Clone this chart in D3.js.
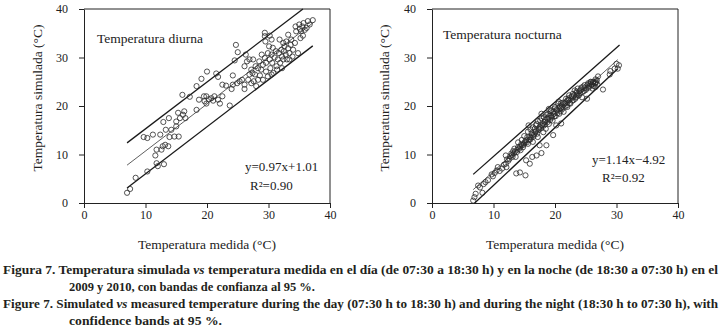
<!DOCTYPE html>
<html>
<head>
<meta charset="utf-8">
<script src="https://cdn.jsdelivr.net/npm/d3@7"></script>
<style>
  body { margin: 0; background: #fff; }
  svg { display: block; }
  .axis text { font-family: "Liberation Serif", serif; font-size: 12px; fill: #222; }
  .axis path, .axis line { stroke: #222; stroke-width: 1; }
</style>
</head>
<body>
<svg id="chart" width="720" height="334"></svg>
<script>
// tick values shared by both panels
const tickValues = [0, 10, 20, 30, 40];

// day temperature: [measured, simulated]
const dayPoints = [
  [7.0, 2.1], [7.5, 2.9], [8.4, 5.2], [10.3, 6.5], [9.7, 13.6], [10.3, 13.4], [11.2, 14.1],
  [11.8, 8.2], [12.0, 7.6], [13.0, 8.0], [11.6, 9.8], [11.8, 11.0], [12.6, 11.0], [12.8, 11.7],
  [13.2, 12.0], [13.7, 11.7], [12.4, 14.1], [13.9, 13.6], [14.2, 15.1], [14.7, 13.7], [15.4, 13.7],
  [12.9, 16.7], [13.3, 15.1], [13.8, 17.5], [15.0, 15.8], [15.0, 16.8], [15.3, 18.6], [15.6, 17.5],
  [16.1, 18.2], [16.3, 18.9], [16.0, 22.3], [16.5, 17.5], [17.2, 21.9], [18.3, 19.2], [18.3, 24.1],
  [19.1, 25.6], [18.7, 21.3], [19.5, 22.0], [19.6, 21.0], [19.9, 22.0], [20.0, 27.1], [19.9, 20.5],
  [20.3, 21.4], [20.7, 21.6], [21.0, 21.1], [21.2, 22.0], [21.5, 26.7], [21.8, 26.0], [21.8, 21.3],
  [22.1, 20.5], [22.5, 24.4], [22.5, 22.0], [23.1, 24.2], [23.7, 20.1], [24.0, 23.5], [24.2, 26.3],
  [24.2, 24.4], [24.5, 29.4], [24.7, 32.6], [25.0, 31.1], [24.9, 24.7], [25.3, 25.1], [25.7, 25.4],
  [26.1, 23.5], [26.1, 24.4], [26.1, 28.2], [26.3, 30.6], [26.5, 29.2], [26.7, 25.4], [26.9, 26.5],
  [26.9, 29.6], [27.2, 24.7], [27.2, 27.5], [27.5, 29.6], [27.6, 25.1], [27.8, 26.5], [27.9, 28.2],
  [28.0, 24.1], [28.3, 25.4], [28.3, 27.8], [28.5, 29.2], [28.6, 26.3], [28.8, 27.5], [29.1, 28.5],
  [29.1, 25.4], [29.4, 29.9], [29.4, 35.1], [29.4, 34.4], [29.5, 33.3], [29.6, 27.1], [29.6, 28.9],
  [29.9, 30.9], [30.1, 32.3], [30.2, 29.6], [30.2, 34.5], [30.3, 27.8], [30.5, 33.7], [30.5, 30.6],
  [30.6, 28.9], [30.7, 32.0], [30.8, 26.8], [31.0, 30.0], [31.2, 31.3], [31.3, 28.2], [31.4, 27.5],
  [31.5, 29.6], [31.7, 30.9], [31.8, 33.7], [31.9, 28.9], [32.1, 31.6], [32.2, 30.2], [32.4, 29.6],
  [32.4, 33.0], [32.5, 31.3], [32.6, 32.3], [32.8, 30.6], [32.9, 33.3], [33.0, 29.6], [33.2, 31.9],
  [33.2, 34.7], [33.4, 30.9], [33.6, 32.6], [33.7, 33.7], [33.9, 30.2], [34.0, 31.6], [34.3, 33.0],
  [34.4, 36.4], [34.5, 35.4], [34.8, 30.9], [35.0, 36.8], [35.1, 35.9], [35.2, 34.0], [35.3, 35.4],
  [35.5, 36.4], [35.6, 34.5], [35.7, 37.1], [35.9, 35.7], [36.2, 36.1], [36.4, 37.5], [36.7, 36.8],
  [37.2, 37.7], [32.2, 27.8], [33.4, 29.6], [29.9, 26.1], [30.5, 26.5], [28.9, 30.6], [27.4, 26.8]
];

// night temperature: [measured, simulated]
const nightPoints = [
  [6.7, 0.5], [6.9, 1.2], [7.1, 1.9], [7.5, 3.6], [7.8, 3.2], [8.2, 2.1], [8.4, 3.9], [8.7, 4.3],
  [9.1, 4.7], [9.7, 5.9], [9.9, 5.5], [10.2, 6.2], [10.5, 6.7], [10.7, 7.4], [11.0, 6.6], [11.4, 7.1],
  [11.7, 7.9], [12.0, 8.1], [12.1, 7.4], [12.4, 8.7], [12.0, 9.8], [12.6, 9.1], [12.9, 10.2],
  [13.1, 9.5], [13.2, 10.7], [13.4, 11.2], [13.6, 9.5], [13.8, 10.5], [14.0, 11.5], [13.7, 6.1],
  [14.3, 6.3], [14.4, 10.9], [14.5, 12.1], [14.8, 11.5], [15.1, 12.6], [15.2, 5.7], [15.3, 8.8],
  [15.5, 13.6], [15.6, 12.2], [15.7, 16.0], [15.9, 8.1], [16.0, 13.1], [16.2, 14.4], [16.3, 9.5],
  [16.4, 12.6], [16.5, 13.7], [16.7, 15.3], [16.9, 16.0], [17.0, 9.8], [17.1, 14.3], [17.2, 13.6],
  [17.4, 15.3], [17.5, 11.9], [17.6, 17.0], [17.8, 18.4], [17.8, 10.3], [17.9, 16.0], [18.1, 14.6],
  [18.2, 17.7], [18.3, 16.7], [18.5, 15.3], [18.6, 11.9], [18.7, 17.4], [18.9, 18.4], [19.0, 16.3],
  [19.1, 18.0], [19.4, 19.1], [19.6, 17.0], [19.7, 14.0], [19.8, 18.4], [20.0, 19.8], [20.1, 17.9],
  [20.2, 16.0], [20.3, 19.1], [20.5, 20.5], [20.7, 18.4], [20.8, 19.9], [21.0, 16.4], [21.0, 19.5],
  [21.3, 20.7], [21.4, 18.8], [21.6, 20.5], [21.8, 21.5], [22.0, 19.8], [22.1, 21.2], [22.3, 22.2],
  [22.5, 20.5], [22.7, 21.8], [22.9, 22.5], [23.0, 21.2], [23.2, 23.2], [23.4, 21.8], [23.5, 22.7],
  [23.7, 23.6], [23.9, 22.2], [24.0, 23.1], [24.3, 23.8], [24.4, 21.8], [24.7, 23.1], [24.8, 24.3],
  [25.1, 23.6], [25.2, 21.5], [25.4, 24.7], [25.6, 24.1], [25.8, 24.9], [25.9, 24.3], [26.1, 23.6],
  [26.2, 24.9], [26.3, 24.1], [26.5, 24.7], [26.6, 23.9], [26.7, 24.9], [27.0, 26.1], [27.8, 23.4],
  [28.9, 26.5], [29.0, 27.2], [29.7, 27.7], [30.0, 28.7], [30.2, 27.7], [30.4, 28.4],
  [13.0, 9.9], [13.5, 10.6], [14.2, 11.2], [14.6, 11.9], [15.0, 12.3], [15.3, 12.9], [15.8, 13.0],
  [16.1, 13.5], [16.6, 14.1], [16.8, 14.6], [17.3, 15.0], [17.7, 15.4], [18.1, 15.9], [18.4, 16.2],
  [18.8, 16.7], [19.2, 17.1], [19.5, 17.6], [19.9, 17.9], [20.4, 18.5], [20.9, 18.9], [21.2, 19.4],
  [21.7, 19.9], [22.0, 20.2], [22.4, 20.6], [22.8, 21.1], [23.3, 21.5], [23.7, 22.1], [24.1, 22.6],
  [24.5, 22.9], [25.0, 23.3], [25.5, 23.8], [26.0, 24.4], [26.5, 24.8], [26.8, 25.3],
  [14.0, 12.5], [15.0, 13.8], [16.0, 15.2], [17.0, 16.3], [17.8, 17.5], [18.6, 18.2], [19.3, 18.9],
  [20.0, 19.5], [21.0, 20.6], [22.2, 21.6], [23.5, 23.0], [24.6, 24.0], [25.8, 25.0],
  [12.2, 9.0], [12.7, 9.6], [13.3, 10.2], [13.9, 11.0], [14.3, 11.6], [14.9, 12.0], [15.4, 12.5],
  [15.9, 13.6], [16.3, 14.0], [16.9, 14.8], [17.5, 15.7], [18.0, 16.4], [18.4, 17.1], [18.9, 17.6],
  [19.4, 18.0], [19.8, 18.8], [20.3, 19.3], [20.7, 19.6], [21.1, 20.1], [21.5, 20.6], [21.9, 21.0],
  [22.3, 21.3], [22.7, 22.0], [23.1, 22.2], [23.6, 22.4], [24.2, 23.4], [24.8, 23.7], [25.3, 24.4],
  [25.7, 24.6], [26.2, 25.0], [26.6, 25.5], [26.9, 24.4], [16.4, 15.6], [17.2, 16.9], [15.6, 14.7],
  [14.6, 13.0], [19.0, 19.4], [20.6, 20.9]
];

// regression line and confidence bands, end points
const dayLines = [
  { name: "upper", w: 1.3, pts: [[7.0, 12.4], [35.6, 40.0]] },
  { name: "fit",   w: 0.7, pts: [[7.0, 7.8], [37.3, 37.2]] },
  { name: "lower", w: 1.3, pts: [[7.0, 3.1], [37.2, 32.4]] }
];
const nightLines = [
  { name: "upper", w: 1.3, pts: [[6.7, 5.9], [30.5, 32.6]] },
  { name: "fit",   w: 0.7, pts: [[6.7, 2.75], [30.2, 29.55]] },
  { name: "lower", w: 1.3, pts: [[6.95, 0.0], [30.2, 27.7]] }
];

const dayLabels = { title: "Temperatura diurna", eq: "y=0.97x+1.01", r2: "R²=0.90" };
const nightLabels = { title: "Temperatura nocturna", eq: "y=1.14x\u22124.92", r2: "R²=0.92" };

const chart = d3.select("#chart");
const serif = "'Liberation Serif', 'DejaVu Serif', serif";

function drawPanel(left, points, lines, labels, pos) {
  let x = d3.scaleLinear().domain([0, 40]).range([left, left + 246]);
  let y = d3.scaleLinear().domain([0, 40]).range([203, 9]);

  let g = chart.append("g");

  // frame top / right
  g.append("line").attr("x1", x(0)).attr("x2", x(40)).attr("y1", y(40)).attr("y2", y(40))
    .attr("stroke", "#222");
  g.append("line").attr("x1", x(40)).attr("x2", x(40)).attr("y1", y(0)).attr("y2", y(40))
    .attr("stroke", "#222");

  g.append("g").attr("class", "axis")
    .attr("transform", "translate(0," + y(0) + ")")
    .call(d3.axisBottom(x).tickValues(tickValues).tickSize(5).tickSizeOuter(0).tickPadding(2));
  g.append("g").attr("class", "axis")
    .attr("transform", "translate(" + x(0) + ",0)")
    .call(d3.axisLeft(y).tickValues(tickValues).tickSize(5).tickSizeOuter(0).tickPadding(11));

  // lines
  let line = d3.line().x(d => x(d[0])).y(d => y(d[1]));
  g.selectAll(".band").data(lines).enter().append("path")
    .attr("d", d => line(d.pts))
    .attr("fill", "none")
    .attr("stroke", "#1a1a1a")
    .attr("stroke-width", d => d.w);

  // points
  g.selectAll(".pt").data(points).enter().append("circle")
    .attr("cx", d => x(d[0]))
    .attr("cy", d => y(d[1]))
    .attr("r", 2.6)
    .attr("fill", "none")
    .attr("stroke", "#2a2a2a")
    .attr("stroke-width", 0.8);

  // text
  g.append("text").text(labels.title)
    .attr("x", pos.titleX).attr("y", pos.titleY)
    .style("font-family", serif).style("font-size", "13.5px").attr("fill", "#222");
  g.append("text").text(labels.eq)
    .attr("x", pos.eqX).attr("y", pos.eqY)
    .style("font-family", serif).style("font-size", "13px").attr("fill", "#222");
  g.append("text").text(labels.r2)
    .attr("x", pos.r2X).attr("y", pos.r2Y)
    .style("font-family", serif).style("font-size", "13px").attr("fill", "#222");

  // axis titles
  g.append("text").text("Temperatura simulada (°C)")
    .attr("transform", "translate(" + pos.yTitleX + ",98) rotate(-90)")
    .attr("text-anchor", "middle")
    .style("font-family", serif).style("font-size", "13.5px").attr("fill", "#222");
  g.append("text").text("Temperatura medida (°C)")
    .attr("x", (x(0) + x(40)) / 2).attr("y", 249)
    .attr("text-anchor", "middle")
    .style("font-family", serif).style("font-size", "13.5px").attr("fill", "#222");
}

drawPanel(84, dayPoints, dayLines, dayLabels,
  { titleX: 97, titleY: 43, eqX: 245, eqY: 171, r2X: 250, r2Y: 190, yTitleX: 42 });
drawPanel(432, nightPoints, nightLines, nightLabels,
  { titleX: 443, titleY: 39, eqX: 592, eqY: 164, r2X: 602, r2Y: 182, yTitleX: 389 });

// caption
const captionLines = [
  { x: 3, y: 274, len: 715, parts: ["Figura 7. Temperatura simulada ", "vs", " temperatura medida en el día (de 07:30 a 18:30 h) y en la noche (de 18:30 a 07:30 h) en el"] },
  { x: 69, y: 291, len: 246, parts: ["2009 y 2010, con bandas de confianza al 95 %."] },
  { x: 3, y: 308, len: 715, parts: ["Figure 7. Simulated ", "vs", " measured temperature during the day (07:30 h to 18:30 h) and during the night (18:30 h to 07:30 h), with"] },
  { x: 69, y: 325, len: 153, parts: ["confidence bands at 95 %."] }
];

captionLines.forEach(function (c) {
  let t = chart.append("text")
    .attr("x", c.x).attr("y", c.y)
    .attr("textLength", c.len)
    .attr("lengthAdjust", "spacingAndGlyphs")
    .style("font-family", serif).style("font-size", "12.5px")
    .style("font-weight", "bold").attr("fill", "#231f20");
  c.parts.forEach(function (p, i) {
    t.append("tspan").text(p).style("font-style", i === 1 ? "italic" : "normal");
  });
});
</script>
</body>
</html>
